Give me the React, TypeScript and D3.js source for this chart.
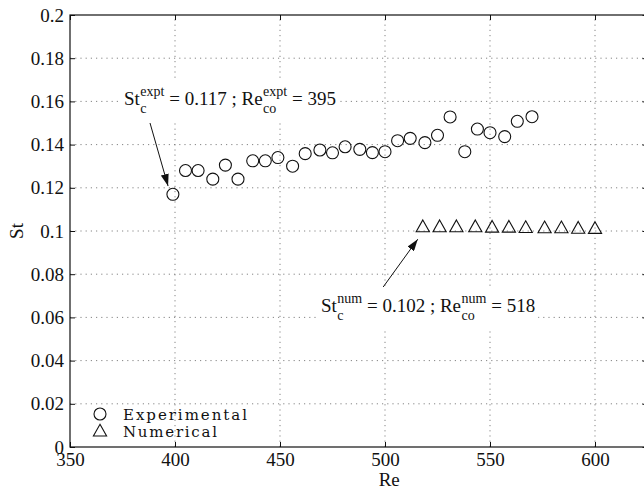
import { useRef, useEffect } from "react";
import * as d3 from "d3";

// experimental Strouhal numbers (circles)
const expRe = [399, 405, 411, 418, 424, 430, 437, 443, 449, 456, 462, 469, 475, 481, 488, 494, 500, 506, 512, 519, 525, 531, 538, 544, 550, 557, 563, 570];
const expSt = [0.117, 0.128, 0.128, 0.124, 0.1305, 0.124, 0.1325, 0.1325, 0.134, 0.13, 0.1358, 0.1375, 0.1362, 0.139, 0.1378, 0.1363, 0.1367, 0.1418, 0.1429, 0.1409, 0.1443, 0.1528, 0.1367, 0.1472, 0.1455, 0.1437, 0.1508, 0.1529];

// numerical Strouhal numbers (triangles)
const numRe = [518, 526, 534, 543, 551, 559, 567, 576, 584, 592, 600];
const numSt = [0.102, 0.102, 0.102, 0.102, 0.1018, 0.1018, 0.1016, 0.1015, 0.1015, 0.1013, 0.1012];

const xTicks = [350, 400, 450, 500, 550, 600];
const yTicks = [0, 0.02, 0.04, 0.06, 0.08, 0.1, 0.12, 0.14, 0.16, 0.18, 0.2];
const legendLabels = ["Experimental", "Numerical"];

const exptNote = [
  { base: "St", sup: "expt", sub: "c" },
  { text: "\u00a0=\u00a00.117\u00a0;\u00a0" },
  { base: "Re", sup: "expt", sub: "co" },
  { text: "\u00a0=\u00a0395" },
];
const numNote = [
  { base: "St", sup: "num", sub: "c" },
  { text: "\u00a0=\u00a00.102\u00a0;\u00a0" },
  { base: "Re", sup: "num", sub: "co" },
  { text: "\u00a0=\u00a0518" },
];

export default function App() {
  const ref = useRef<SVGSVGElement>(null);

  useEffect(() => {
    const svg = d3.select(ref.current);
    svg.selectAll("*").remove();

    const width = 644;
    const height = 493;
    const serif = "'Liberation Serif', 'Times New Roman', serif";

    svg.attr("width", width).attr("height", height);

    const x = d3.scaleLinear().domain([350, 625]).range([70, 647.5]);
    const y = d3.scaleLinear().domain([0, 0.2]).range([447, 15]);

    svg.append("rect").attr("width", width).attr("height", height).attr("fill", "#fff");

    // dotted grid
    const grid = svg.append("g")
      .attr("stroke", "#777")
      .attr("stroke-width", 0.9)
      .attr("stroke-dasharray", "1.2,4");
    xTicks.filter(t => t > 350).forEach(t => {
      grid.append("line")
        .attr("x1", x(t)).attr("x2", x(t))
        .attr("y1", y(0)).attr("y2", y(0.2));
    });
    yTicks.filter(t => t > 0 && t < 0.2).forEach(t => {
      grid.append("line")
        .attr("x1", x(350)).attr("x2", x(625))
        .attr("y1", y(t)).attr("y2", y(t));
    });

    const fmt = (d: any) => String(+(+d).toFixed(2));

    // axes, ticks pointing inward
    const xAxis = svg.append("g")
      .attr("transform", `translate(0,${y(0)})`)
      .call(d3.axisBottom(x).tickValues(xTicks).tickSizeInner(-5).tickSizeOuter(0).tickPadding(5.5).tickFormat(fmt));
    const xTop = svg.append("g")
      .attr("transform", `translate(0,${y(0.2)})`)
      .call(d3.axisTop(x).tickValues(xTicks).tickSizeInner(-5).tickSizeOuter(0).tickFormat(() => ""));
    const yAxis = svg.append("g")
      .attr("transform", `translate(${x(350)},0)`)
      .call(d3.axisLeft(y).tickValues(yTicks).tickSizeInner(-5).tickSizeOuter(0).tickPadding(6).tickFormat(fmt));
    const yRight = svg.append("g")
      .attr("transform", `translate(${x(625)},0)`)
      .call(d3.axisRight(y).tickValues(yTicks).tickSizeInner(-5).tickSizeOuter(0).tickFormat(() => ""));

    [xAxis, xTop, yAxis, yRight].forEach(a => {
      a.select(".domain").remove();
      a.selectAll("line").attr("stroke", "#111");
      a.selectAll("text")
        .attr("font-family", serif)
        .attr("font-size", 19)
        .attr("fill", "#111");
    });

    // axes box
    svg.append("rect")
      .attr("x", x(350))
      .attr("y", y(0.2))
      .attr("width", x(625) - x(350))
      .attr("height", y(0) - y(0.2))
      .attr("fill", "none")
      .attr("stroke", "#111")
      .attr("stroke-width", 1.2);

    // axis titles
    svg.append("text")
      .attr("x", x(502))
      .attr("y", 486)
      .attr("text-anchor", "middle")
      .attr("font-family", serif)
      .attr("font-size", 19)
      .attr("fill", "#111")
      .text("Re");
    svg.append("text")
      .attr("transform", `translate(23,${y(0.1)}) rotate(-90)`)
      .attr("text-anchor", "middle")
      .attr("font-family", serif)
      .attr("font-size", 19)
      .attr("fill", "#111")
      .text("St");

    const triangle = "M0,-6.7L6.6,5L-6.6,5Z";

    // markers
    svg.append("g")
      .selectAll("circle")
      .data(expRe.map((r, i) => [r, expSt[i]]))
      .enter()
      .append("circle")
      .attr("cx", d => x(d[0]))
      .attr("cy", d => y(d[1]))
      .attr("r", 6)
      .attr("fill", "none")
      .attr("stroke", "#111")
      .attr("stroke-width", 1.1);

    svg.append("g")
      .selectAll("path")
      .data(numRe.map((r, i) => [r, numSt[i]]))
      .enter()
      .append("path")
      .attr("transform", d => `translate(${x(d[0])},${y(d[1])})`)
      .attr("d", triangle)
      .attr("fill", "none")
      .attr("stroke", "#111")
      .attr("stroke-width", 1.1);

    // arrows
    svg.append("defs").append("marker")
      .attr("id", "head")
      .attr("markerUnits", "userSpaceOnUse")
      .attr("viewBox", "0 -4 12 8")
      .attr("refX", 12)
      .attr("refY", 0)
      .attr("markerWidth", 12)
      .attr("markerHeight", 8)
      .attr("orient", "auto")
      .append("path")
      .attr("d", "M0,-4L12,0L0,4Z")
      .attr("fill", "#111");

    const arrow = (r0: number, s0: number, r1: number, s1: number) => {
      svg.append("line")
        .attr("x1", x(r0)).attr("y1", y(s0))
        .attr("x2", x(r1)).attr("y2", y(s1))
        .attr("stroke", "#111")
        .attr("stroke-width", 1)
        .attr("marker-end", "url(#head)");
    };
    arrow(388.1, 0.15, 396.7, 0.1208);
    arrow(496.7, 0.0708, 515.6, 0.0962);

    // annotations with sub/superscripts on a white box
    const note = (re: number, st: number, parts: any[]) => {
      const x0 = x(re);
      const base = y(st);
      const g = svg.append("g").attr("font-family", serif).attr("fill", "#111");
      const bg = g.append("rect").attr("fill", "#fff");
      let cx = x0;
      parts.forEach(p => {
        if (p.text) {
          const el = g.append("text").attr("x", cx).attr("y", base).attr("font-size", 19).text(p.text);
          cx += (el.node() as SVGTextElement).getComputedTextLength();
        } else {
          const b = g.append("text").attr("x", cx).attr("y", base).attr("font-size", 19).text(p.base);
          cx += (b.node() as SVGTextElement).getComputedTextLength() + 0.5;
          const sp = g.append("text").attr("x", cx).attr("y", base - 9).attr("font-size", 14).text(p.sup);
          const sb = g.append("text").attr("x", cx).attr("y", base + 8).attr("font-size", 14).text(p.sub);
          cx += Math.max(
            (sp.node() as SVGTextElement).getComputedTextLength(),
            (sb.node() as SVGTextElement).getComputedTextLength()
          );
        }
      });
      bg.attr("x", x0 - 3).attr("y", base - 25).attr("width", cx - x0 + 6).attr("height", 42);
    };
    note(375.7, 0.1583, exptNote);
    note(469.5, 0.0625, numNote);

    // legend
    const legend = svg.append("g").attr("font-family", "'DejaVu Serif', serif").attr("fill", "#111");
    const rows = [
      { y: 414, len: 124 },
      { y: 431, len: 94 },
    ];
    legendLabels.forEach((label, i) => {
      if (i === 0) {
        legend.append("circle").attr("cx", 100).attr("cy", rows[i].y).attr("r", 6)
          .attr("fill", "none").attr("stroke", "#111").attr("stroke-width", 1.1);
      } else {
        legend.append("path").attr("transform", `translate(100,${rows[i].y})`).attr("d", triangle)
          .attr("fill", "none").attr("stroke", "#111").attr("stroke-width", 1.1);
      }
      legend.append("text")
        .attr("x", 123)
        .attr("y", rows[i].y + 5.5)
        .attr("font-size", 15)
        .attr("textLength", rows[i].len)
        .attr("lengthAdjust", "spacing")
        .text(label);
    });
  }, []);

  return (
    <svg ref={ref} style={{ position: "absolute", left: 0, top: 0, display: "block" }}></svg>
  );
}
